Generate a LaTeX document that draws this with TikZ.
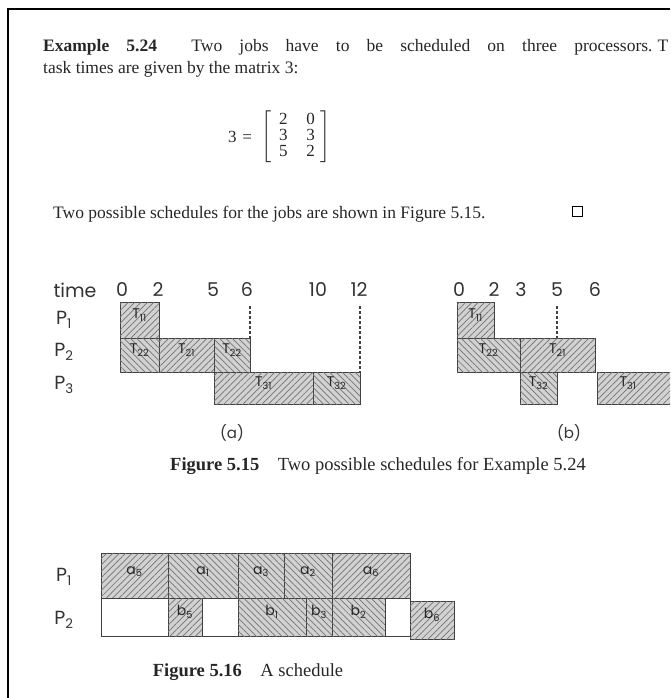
\documentclass[tikz,border=0pt]{standalone}
\usepackage{amsmath}
\usepackage{fontspec}
\setmainfont{Liberation Serif}
\newfontfamily\handfont{Poppins}
\usetikzlibrary{patterns.meta,fit}

\tikzset{
  bodytext/.style={anchor=base west, inner sep=0pt, text=black!85,
    font=\fontsize{17.5}{20}\selectfont},
  captext/.style={inner sep=0pt, text=black!85, font=\fontsize{18.5}{20}\selectfont},
  hand/.style={inner sep=0pt, text=black!80, font=\handfont\fontsize{19}{20}\selectfont},
  gbox/.style={draw=black!75, line width=0.9pt, inner sep=0pt, outer sep=0pt,
    text=black!85, font=\handfont\fontsize{14}{15}\selectfont},
  taskne/.style={gbox, fill=gray!35,
    postaction={pattern={Lines[angle=45, distance=4.5pt, line width=0.7pt]}, pattern color=black!55}},
  tasknw/.style={gbox, fill=gray!35,
    postaction={pattern={Lines[angle=-45, distance=4.5pt, line width=0.7pt]}, pattern color=black!55}},
  idlebox/.style={gbox, fill=white},
  cutline/.style={line width=1.3pt, dash pattern=on 3pt off 2pt, black!75},
}

\begin{document}
\begin{tikzpicture}[x=1pt, y=-1pt]
  \useasboundingbox (0,0) rectangle (670,698);
  \clip (0,0) rectangle (670,698);
  \draw[line width=2.5pt] (8,698) -- (8,9) -- (670,9);

  % text of the example
  \node[bodytext] (ex1) at (43,52)
    {\makebox[625pt][s]{\textbf{Example 5.24}\ \ Two jobs have to be scheduled on three processors.\hspace{5pt}T}};
  \node[bodytext] (ex2) at (43,74) {task times are given by the matrix 3:};
  \node[inner sep=0pt, text=black!85, font=\fontsize{17}{20}\selectfont] (tee) at (240,137) {3\,\,=};
  \node[inner sep=0pt, text=black!85, font=\fontsize{17}{20}\selectfont] (mat) at (296,137)
    {$\left[\renewcommand{\arraystretch}{0.72}\begin{tabular}{@{\hspace{7pt}}c@{\hspace{19pt}}c@{\hspace{5pt}}}2&0\\3&3\\5&2\end{tabular}\right]$};
  \node[bodytext] (ex3) at (53,218) {Two possible schedules for the jobs are shown in Figure 5.15.};
  \node[draw, line width=0.7pt, minimum size=10pt, inner sep=0pt] (qed) at (577,211) {};

  % figure 5.15 (a)
  \node[hand] (time) at (75,290) {time};
  \foreach \t/\x in {0/122,2/158,5/213,6/247,10/318,12/359}
    \node[hand] (ta\t) at (\x,290) {\t};
  \node[hand] (pa1) at (64,320) {P\textsubscript{1}};
  \node[hand] (pa2) at (64,352) {P\textsubscript{2}};
  \node[hand] (pa3) at (64,385) {P\textsubscript{3}};
  \node[taskne, fit={(120,302) (159,338)}] (a11) {T\textsubscript{11}};
  \node[tasknw, fit={(120,338) (159,372)}] (a22) {T\textsubscript{22}};
  \node[taskne, fit={(159,338) (214,372)}] (a21) {T\textsubscript{21}};
  \node[tasknw, fit={(214,338) (250,372)}] (a22b) {T\textsubscript{22}};
  \node[taskne, fit={(214,372) (313,404)}] (a31) {T\textsubscript{31}};
  \node[tasknw, fit={(313,372) (360,404)}] (a32) {T\textsubscript{32}};
  \coordinate (cut6) at (250,306);
  \coordinate (cut12) at (360,306);
  \draw[cutline] (cut6) -- (a22b.north east);
  \draw[cutline] (cut12) -- (a32.north east);
  \node[hand, font=\handfont\fontsize{15}{16}\selectfont] (capa) at (232,433) {(a)};

  % figure 5.15 (b)
  \foreach \t/\x in {0/459,2/494,3/521,5/557,6/595}
    \node[hand] (tb\t) at (\x,290) {\t};
  \node[taskne, fit={(457,302) (494,338)}] (b11) {T\textsubscript{11}};
  \node[tasknw, fit={(457,338) (520,372)}] (b22) {T\textsubscript{22}};
  \node[taskne, fit={(520,338) (595,372)}] (b21) {T\textsubscript{21}};
  \node[tasknw, fit={(520,372) (557,404)}] (b32) {T\textsubscript{32}};
  \node[taskne, fit={(595,372) (700,404)}, text width=100pt, align=left] (b31) {\hspace{22pt}T\textsubscript{31}};
  \coordinate (cut5) at (557,306);
  \draw[cutline] (cut5) -- (557,338);
  \node[hand, font=\handfont\fontsize{15}{16}\selectfont] (capb) at (569,433) {(b)};

  \node[captext] (cap15) at (378,466)
    {\textbf{Figure 5.15}\quad Two possible schedules for Example 5.24};

  % figure 5.16
  \node[hand] (q1) at (64,577) {P\textsubscript{1}};
  \node[hand] (q2) at (64,620) {P\textsubscript{2}};
  \node[taskne, fit={(101,553) (168,598)}] (ca5) {a\textsubscript{5}};
  \node[tasknw, fit={(168,553) (238,598)}] (ca1) {a\textsubscript{1}};
  \node[tasknw, fit={(238,553) (284,598)}] (ca3) {a\textsubscript{3}};
  \node[tasknw, fit={(284,553) (332,598)}] (ca2) {a\textsubscript{2}};
  \node[taskne, fit={(332,553) (410,598)}] (ca6) {a\textsubscript{6}};
  \node[idlebox, fit={(101,598) (168,636)}] (idle1) {};
  \node[taskne, fit={(168,598) (202,636)}] (cb5) {b\textsubscript{5}};
  \node[idlebox, fit={(202,598) (238,636)}] (idle2) {};
  \node[tasknw, fit={(238,598) (306,636)}] (cb1) {b\textsubscript{1}};
  \node[tasknw, fit={(306,598) (332,636)}] (cb3) {b\textsubscript{3}};
  \node[tasknw, fit={(332,598) (385,636)}] (cb2) {b\textsubscript{2}};
  \node[idlebox, fit={(385,598) (410,636)}] (idle3) {};
  \node[taskne, fit={(410,601) (454,639)}] (cb6) {b\textsubscript{6}};
  \node[captext] (cap16) at (248,672)
    {\textbf{Figure 5.16}\quad A schedule};
\end{tikzpicture}
\end{document}
